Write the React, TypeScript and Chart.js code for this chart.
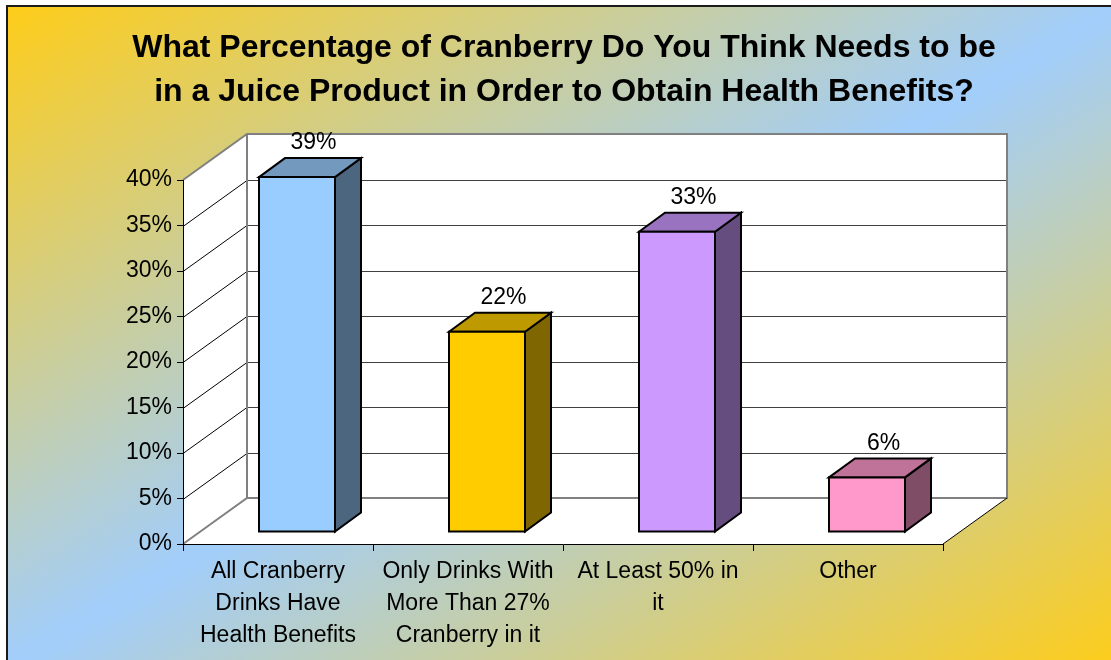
import React, { useEffect, useRef } from 'react';
import { Chart, registerables } from 'chart.js';

Chart.register(...registerables);

const TITLE_LINES = [
  'What Percentage of Cranberry Do You Think Needs to be',
  'in a Juice Product in Order to Obtain Health Benefits?',
];
const CATEGORIES = [
  ['All Cranberry', 'Drinks Have', 'Health Benefits'],
  ['Only Drinks With', 'More Than 27%', 'Cranberry in it'],
  ['At Least 50% in', 'it'],
  ['Other'],
];
const VALUES = [39, 22, 33, 6];
const FRONT_COLORS = ['#99CCFF', '#FFCC00', '#CC99FF', '#FF99CC'];
const TOP_COLORS = ['#7399BF', '#BF9900', '#9973BF', '#BF7399'];
const SIDE_COLORS = ['#4D6680', '#806600', '#664D80', '#804D66'];
const Y_MIN = 0;
const Y_MAX = 40;
const Y_STEP = 5;

const FONT = "'Liberation Sans', Arial, sans-serif";

// 3D geometry (style constants)
const WALL_D = { dx: 64, dy: -46 };
const BAR_OFF = { dx: 19, dy: -12 };
const BAR_D = { dx: 26, dy: -19 };
const LABEL_OFF = { dx: 16.5, dy: -15 };

const threeDPlugin = {
  id: 'threeD',
  beforeDraw(chart: any) {
    const { ctx, chartArea } = chart;
    const yScale = chart.scales.y;
    const L = chartArea.left;
    const R = chartArea.right;
    const T = yScale.getPixelForValue(Y_MAX);
    const B = yScale.getPixelForValue(Y_MIN);
    const { dx, dy } = WALL_D;
    ctx.save();
    ctx.fillStyle = '#FFFFFF';
    // side wall
    ctx.beginPath();
    ctx.moveTo(L, T);
    ctx.lineTo(L + dx, T + dy);
    ctx.lineTo(L + dx, B + dy);
    ctx.lineTo(L, B);
    ctx.closePath();
    ctx.fill();
    // back wall
    ctx.fillRect(L + dx, T + dy, R - L, B - T);
    // floor
    ctx.beginPath();
    ctx.moveTo(L, B);
    ctx.lineTo(R, B);
    ctx.lineTo(R + dx, B + dy);
    ctx.lineTo(L + dx, B + dy);
    ctx.closePath();
    ctx.fill();

    // gridlines on back wall + diagonals on side wall
    for (let v = Y_MIN + Y_STEP; v < Y_MAX; v += Y_STEP) {
      const y = Math.round(yScale.getPixelForValue(v)) + 0.5;
      ctx.strokeStyle = '#404040';
      ctx.lineWidth = 1;
      ctx.beginPath();
      ctx.moveTo(L + dx, y + dy);
      ctx.lineTo(R + dx, y + dy);
      ctx.stroke();
      ctx.strokeStyle = '#000000';
      ctx.beginPath();
      ctx.moveTo(L, y);
      ctx.lineTo(L + dx, y + dy);
      ctx.stroke();
    }
    // gray wall edges
    ctx.strokeStyle = '#808080';
    ctx.lineWidth = 2;
    ctx.beginPath();
    ctx.moveTo(L, T);
    ctx.lineTo(L + dx, T + dy);
    ctx.lineTo(R + dx, T + dy);
    ctx.lineTo(R + dx, B + dy);
    ctx.lineTo(L + dx, B + dy);
    ctx.lineTo(L, B);
    ctx.moveTo(L + dx, T + dy);
    ctx.lineTo(L + dx, B + dy);
    ctx.stroke();
    // floor right edge
    ctx.strokeStyle = '#000000';
    ctx.lineWidth = 1;
    ctx.beginPath();
    ctx.moveTo(R, B);
    ctx.lineTo(R + dx, B + dy);
    ctx.stroke();
    ctx.restore();
  },
  afterDatasetsDraw(chart: any) {
    const { ctx } = chart;
    const meta = chart.getDatasetMeta(0);
    ctx.save();
    ctx.lineWidth = 2;
    ctx.lineJoin = 'miter';
    ctx.strokeStyle = '#000000';
    meta.data.forEach((el: any, i: number) => {
      const p = el.getProps(['x', 'y', 'base', 'width'], true);
      const l = p.x - p.width / 2 + BAR_OFF.dx;
      const r = p.x + p.width / 2 + BAR_OFF.dx;
      const t = p.y + BAR_OFF.dy;
      const b = p.base + BAR_OFF.dy;
      const { dx, dy } = BAR_D;
      // side face
      ctx.fillStyle = SIDE_COLORS[i];
      ctx.beginPath();
      ctx.moveTo(r, t);
      ctx.lineTo(r + dx, t + dy);
      ctx.lineTo(r + dx, b + dy);
      ctx.lineTo(r, b);
      ctx.closePath();
      ctx.fill();
      ctx.stroke();
      // top face
      ctx.fillStyle = TOP_COLORS[i];
      ctx.beginPath();
      ctx.moveTo(l, t);
      ctx.lineTo(l + dx, t + dy);
      ctx.lineTo(r + dx, t + dy);
      ctx.lineTo(r, t);
      ctx.closePath();
      ctx.fill();
      ctx.stroke();
      // front face
      ctx.fillStyle = FRONT_COLORS[i];
      ctx.beginPath();
      ctx.rect(l, t, r - l, b - t);
      ctx.fill();
      ctx.stroke();
      // value label
      ctx.fillStyle = '#000000';
      ctx.font = `23px ${FONT}`;
      ctx.textAlign = 'center';
      ctx.textBaseline = 'middle';
      ctx.fillText(`${VALUES[i]}%`, (l + r) / 2 + LABEL_OFF.dx, t + dy + LABEL_OFF.dy);
    });
    ctx.restore();
  },
};

export default function App() {
  const canvasRef = useRef<HTMLCanvasElement | null>(null);

  useEffect(() => {
    const canvas = canvasRef.current;
    if (!canvas) return;
    const chart = new Chart(canvas, {
      type: 'bar',
      data: {
        labels: CATEGORIES,
        datasets: [
          {
            data: VALUES,
            backgroundColor: 'rgba(0,0,0,0)',
            borderWidth: 0,
            categoryPercentage: 1,
            barPercentage: 0.4,
          },
        ],
      },
      options: {
        responsive: false,
        animation: false,
        devicePixelRatio: 1,
        layout: { padding: { left: 17, right: 0, top: 0, bottom: 0 } },
        plugins: {
          legend: { display: false },
          tooltip: { enabled: false },
          title: {
            display: true,
            text: TITLE_LINES,
            color: '#000000',
            font: { family: FONT, size: 32, weight: 'bold', lineHeight: 44 / 32 },
            padding: { top: 26, bottom: 66 },
          },
        },
        scales: {
          x: {
            type: 'category',
            offset: true,
            grid: {
              offset: true,
              drawOnChartArea: false,
              drawTicks: true,
              tickLength: 7,
              color: '#000000',
              lineWidth: 1,
            },
            border: { display: true, color: '#000000', width: 1 },
            ticks: {
              color: '#000000',
              font: { family: FONT, size: 23, lineHeight: 31.7 / 23 },
              padding: 5,
              maxRotation: 0,
              autoSkip: false,
            },
            afterFit(scale: any) {
              scale.height = 116;
            },
          },
          y: {
            type: 'linear',
            position: 'left',
            min: Y_MIN,
            max: Y_MAX,
            grid: {
              drawOnChartArea: false,
              drawTicks: true,
              tickLength: 6,
              color: '#000000',
              lineWidth: 1,
            },
            border: { display: true, color: '#000000', width: 1 },
            ticks: {
              stepSize: Y_STEP,
              color: '#000000',
              font: { family: FONT, size: 23 },
              padding: 5,
              callback: (v: any) => `${v}%`,
            },
            afterFit(scale: any) {
              scale.width = 166;
            },
          },
          yRight: {
            type: 'linear',
            position: 'right',
            display: true,
            grid: { display: false, drawTicks: false },
            border: { display: false },
            ticks: { display: false },
            afterFit(scale: any) {
              scale.width = 168;
            },
          },
        },
      },
      plugins: [threeDPlugin],
    });
    return () => chart.destroy();
  }, []);

  return (
    <div
      style={{
        position: 'fixed',
        left: 0,
        top: 0,
        width: 1111,
        height: 660,
        overflow: 'hidden',
        background: '#ffffff',
      }}
    >
      <div
        style={{
          position: 'absolute',
          left: 6,
          top: 5,
          width: 1110,
          height: 660,
          border: '2px solid #1a1a1a',
          background: 'linear-gradient(to bottom right, #FECD1A 0%, #A2CEFC 50%, #FECD1A 100%)',
        }}
      />
      <canvas
        ref={canvasRef}
        width={1111}
        height={660}
        style={{ position: 'absolute', left: 0, top: 0 }}
      />
    </div>
  );
}
